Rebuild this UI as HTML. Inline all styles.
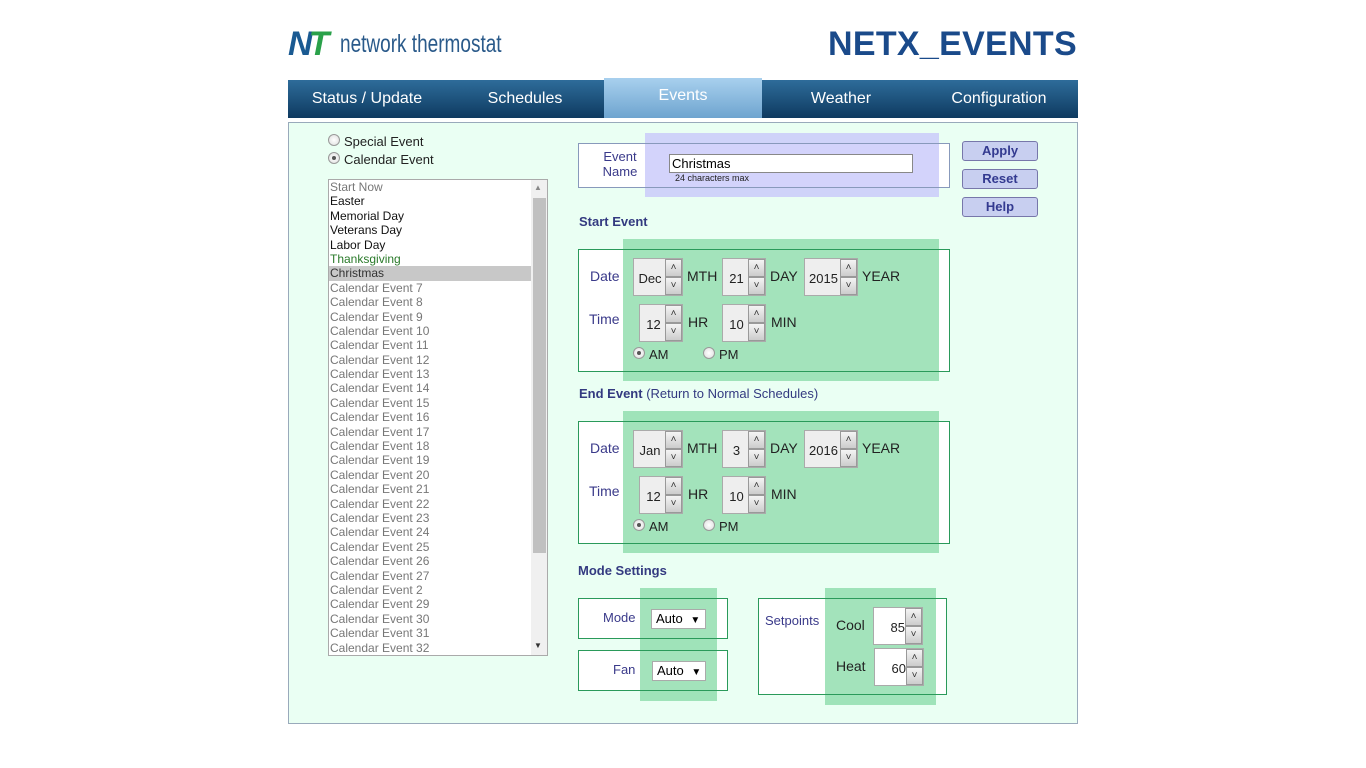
<!DOCTYPE html>
<html><head><meta charset="utf-8"><style>
*{box-sizing:border-box;margin:0;padding:0}
body{width:1366px;height:768px;background:#fff;font-family:"Liberation Sans",Arial,sans-serif;position:relative;overflow:hidden}
.a{position:absolute}
.t{position:absolute;font-size:14px;color:#222;white-space:nowrap}
.lbl{position:absolute;font-size:14px;color:#3a3a8a;white-space:nowrap}
.hd{position:absolute;font-size:13px;font-weight:bold;color:#333a80;white-space:nowrap}
.box{position:absolute;border:1px solid #2a9a5a}
.ov{position:absolute;background:rgba(140,220,170,0.8)}
.sp{position:absolute;height:38px;background:#eee;border:1px solid #aaa;font-size:13px;color:#222}
.sp span{position:absolute;left:0;top:12px;text-align:center}
.b{position:absolute;right:0;width:17px;height:18px;background:linear-gradient(#f4f4f4,#ccc);border:1px solid #999;font-size:10px;text-align:center;line-height:16px;color:#333}
.nav{position:absolute;top:80px;height:38px;color:#fff;font-size:16px;text-align:center;line-height:38px}
.btn{position:absolute;left:962px;width:76px;height:20px;border:1px solid #7777aa;border-radius:3px;background:#c8cff0;color:#333a90;font-weight:bold;font-size:13px;text-align:center;line-height:18px}
.radio{position:absolute;width:12px;height:12px;border-radius:50%;border:1px solid #999;background:radial-gradient(#fff,#ddd)}
.radio.on::after{content:"";position:absolute;left:3px;top:3px;width:4px;height:4px;border-radius:50%;background:#555}
.list div{height:14.4px;line-height:14.4px;font-size:12px;padding-left:1px;color:#777}
.sel{position:absolute;height:20px;border:1px solid #aaa;background:#fff;font-size:13px;padding-left:4px;line-height:18px}
</style></head><body>
<div class="a" style="left:288px;top:26px;font-size:34px;font-weight:bold;font-style:italic;letter-spacing:-4px;line-height:36px"><span style="color:#1a5a92">N</span><span style="color:#2aa14a">T</span></div>
<div class="a" style="left:340px;top:28px;font-size:25px;color:#2a5a8a;transform:scaleX(0.76);transform-origin:left;line-height:32px">network thermostat</div>
<div class="a" style="left:828px;top:24px;font-size:34px;font-weight:bold;color:#1a4a8a;line-height:40px;letter-spacing:0.3px">NETX_EVENTS</div>
<div class="a" style="left:288px;top:80px;width:790px;height:38px;background:linear-gradient(#2e6c9a,#0e3a60)"></div>
<div class="nav" style="left:288px;width:158px">Status / Update</div>
<div class="nav" style="left:446px;width:158px">Schedules</div>
<div class="nav" style="left:604px;top:78px;height:40px;width:158px;background:linear-gradient(#a8d0ee,#6ea4cf);line-height:36px">Events</div>
<div class="nav" style="left:762px;width:158px">Weather</div>
<div class="nav" style="left:920px;width:158px">Configuration</div>
<div class="a" style="left:288px;top:122px;width:790px;height:602px;background:#eafff3;border:1px solid #9ab"></div>
<div class="radio" style="left:328px;top:134px"></div><div class="t" style="left:344px;top:134px;font-size:13px">Special Event</div>
<div class="radio on" style="left:328px;top:152px"></div><div class="t" style="left:344px;top:152px;font-size:13px">Calendar Event</div>
<div class="a" style="left:328px;top:179px;width:220px;height:477px;background:#fff;border:1px solid #aaa;overflow:hidden">
<div class="list" style="position:absolute;left:0;top:0;width:202px">
<div>Start Now</div><div style="color:#111">Easter</div><div style="color:#111">Memorial Day</div><div style="color:#111">Veterans Day</div><div style="color:#111">Labor Day</div><div style="color:#2a7a2a">Thanksgiving</div><div style="background:#c8c8c8;color:#333">Christmas</div>
<div>Calendar Event 7</div><div>Calendar Event 8</div><div>Calendar Event 9</div><div>Calendar Event 10</div><div>Calendar Event 11</div><div>Calendar Event 12</div><div>Calendar Event 13</div><div>Calendar Event 14</div><div>Calendar Event 15</div><div>Calendar Event 16</div><div>Calendar Event 17</div><div>Calendar Event 18</div><div>Calendar Event 19</div><div>Calendar Event 20</div><div>Calendar Event 21</div><div>Calendar Event 22</div><div>Calendar Event 23</div><div>Calendar Event 24</div><div>Calendar Event 25</div><div>Calendar Event 26</div><div>Calendar Event 27</div><div>Calendar Event 2</div><div>Calendar Event 29</div><div>Calendar Event 30</div><div>Calendar Event 31</div><div>Calendar Event 32</div>
</div>
<div class="a" style="left:202px;top:0;width:17px;height:475px;background:#f0f0f0"></div>
<div class="a" style="left:204px;top:18px;width:13px;height:355px;background:#c0c0c0"></div>
<div class="a" style="left:205px;top:3px;font-size:8px;color:#888">▲</div>
<div class="a" style="left:205px;top:461px;font-size:8px;color:#333">▼</div>
</div>
<div class="a" style="left:578px;top:143px;width:372px;height:45px;background:#fff"></div>
<div class="a" style="left:645px;top:133px;width:294px;height:64px;background:rgba(200,200,250,0.8)"></div>
<div class="box" style="left:578px;top:143px;width:372px;height:45px;border-color:#8899bb"></div>
<div class="lbl" style="left:598px;top:149px;width:44px;text-align:center;font-size:13px;line-height:15px;white-space:normal">Event Name</div>
<div class="a" style="left:669px;top:154px;width:244px;height:19px;background:#fff;border:1px solid #888;font-size:13px;padding-left:2px;line-height:17px">Christmas</div>
<div class="a" style="left:675px;top:173px;font-size:9px;color:#222">24 characters max</div>
<div class="btn" style="top:141px">Apply</div>
<div class="btn" style="top:169px">Reset</div>
<div class="btn" style="top:197px">Help</div>
<div class="hd" style="left:579px;top:214px">Start Event</div>
<div class="a" style="left:578px;top:249px;width:372px;height:123px;background:#fff"></div>
<div class="ov" style="left:623px;top:239px;width:316px;height:142px"></div>
<div class="box" style="left:578px;top:249px;width:372px;height:123px"></div>
<div class="lbl" style="left:590px;top:268px">Date</div>
<div class="lbl" style="left:589px;top:311px">Time</div>
<div class="sp" style="left:633px;top:258px;width:50px"><span style="width:32px">Dec</span><div class="b" style="top:0">˄</div><div class="b" style="top:18px">˅</div></div>
<div class="t" style="left:687px;top:268px">MTH</div>
<div class="sp" style="left:722px;top:258px;width:44px"><span style="width:27px">21</span><div class="b" style="top:0">˄</div><div class="b" style="top:18px">˅</div></div>
<div class="t" style="left:770px;top:268px">DAY</div>
<div class="sp" style="left:804px;top:258px;width:54px"><span style="width:37px">2015</span><div class="b" style="top:0">˄</div><div class="b" style="top:18px">˅</div></div>
<div class="t" style="left:862px;top:268px">YEAR</div>
<div class="sp" style="left:639px;top:304px;width:44px"><span style="width:27px">12</span><div class="b" style="top:0">˄</div><div class="b" style="top:18px">˅</div></div>
<div class="t" style="left:688px;top:314px">HR</div>
<div class="sp" style="left:722px;top:304px;width:44px"><span style="width:27px">10</span><div class="b" style="top:0">˄</div><div class="b" style="top:18px">˅</div></div>
<div class="t" style="left:771px;top:314px">MIN</div>
<div class="radio on" style="left:633px;top:347px"></div><div class="t" style="left:649px;top:347px;font-size:13px">AM</div>
<div class="radio" style="left:703px;top:347px"></div><div class="t" style="left:719px;top:347px;font-size:13px">PM</div>
<div class="hd" style="left:579px;top:386px">End Event <span style="font-weight:normal">(Return to Normal Schedules)</span></div>
<div class="a" style="left:578px;top:421px;width:372px;height:123px;background:#fff"></div>
<div class="ov" style="left:623px;top:411px;width:316px;height:142px"></div>
<div class="box" style="left:578px;top:421px;width:372px;height:123px"></div>
<div class="lbl" style="left:590px;top:440px">Date</div>
<div class="lbl" style="left:589px;top:483px">Time</div>
<div class="sp" style="left:633px;top:430px;width:50px"><span style="width:32px">Jan</span><div class="b" style="top:0">˄</div><div class="b" style="top:18px">˅</div></div>
<div class="t" style="left:687px;top:440px">MTH</div>
<div class="sp" style="left:722px;top:430px;width:44px"><span style="width:27px">3</span><div class="b" style="top:0">˄</div><div class="b" style="top:18px">˅</div></div>
<div class="t" style="left:770px;top:440px">DAY</div>
<div class="sp" style="left:804px;top:430px;width:54px"><span style="width:37px">2016</span><div class="b" style="top:0">˄</div><div class="b" style="top:18px">˅</div></div>
<div class="t" style="left:862px;top:440px">YEAR</div>
<div class="sp" style="left:639px;top:476px;width:44px"><span style="width:27px">12</span><div class="b" style="top:0">˄</div><div class="b" style="top:18px">˅</div></div>
<div class="t" style="left:688px;top:486px">HR</div>
<div class="sp" style="left:722px;top:476px;width:44px"><span style="width:27px">10</span><div class="b" style="top:0">˄</div><div class="b" style="top:18px">˅</div></div>
<div class="t" style="left:771px;top:486px">MIN</div>
<div class="radio on" style="left:633px;top:519px"></div><div class="t" style="left:649px;top:519px;font-size:13px">AM</div>
<div class="radio" style="left:703px;top:519px"></div><div class="t" style="left:719px;top:519px;font-size:13px">PM</div>
<div class="hd" style="left:578px;top:563px">Mode Settings</div>
<div class="a" style="left:578px;top:598px;width:150px;height:41px;background:#fff"></div>
<div class="a" style="left:578px;top:650px;width:150px;height:41px;background:#fff"></div>
<div class="a" style="left:758px;top:598px;width:189px;height:97px;background:#fff"></div>
<div class="ov" style="left:640px;top:588px;width:77px;height:113px"></div>
<div class="ov" style="left:825px;top:588px;width:111px;height:117px"></div>
<div class="box" style="left:578px;top:598px;width:150px;height:41px"></div>
<div class="box" style="left:578px;top:650px;width:150px;height:41px"></div>
<div class="box" style="left:758px;top:598px;width:189px;height:97px"></div>
<div class="lbl" style="left:603px;top:610px;font-size:13px">Mode</div>
<div class="lbl" style="left:613px;top:662px;font-size:13px">Fan</div>
<div class="sel" style="left:651px;top:609px;width:55px">Auto <span style="font-size:10px;margin-left:4px">▼</span></div>
<div class="sel" style="left:652px;top:661px;width:54px">Auto <span style="font-size:10px;margin-left:4px">▼</span></div>
<div class="lbl" style="left:765px;top:613px;font-size:13px">Setpoints</div>
<div class="t" style="left:836px;top:617px">Cool</div>
<div class="t" style="left:836px;top:658px">Heat</div>
<div class="sp" style="left:873px;top:607px;width:50px;background:#fff"><span style="width:31px;text-align:right">85</span><div class="b" style="top:0">˄</div><div class="b" style="top:18px">˅</div></div>
<div class="sp" style="left:874px;top:648px;width:50px;background:#fff"><span style="width:31px;text-align:right">60</span><div class="b" style="top:0">˄</div><div class="b" style="top:18px">˅</div></div>
</body></html>
